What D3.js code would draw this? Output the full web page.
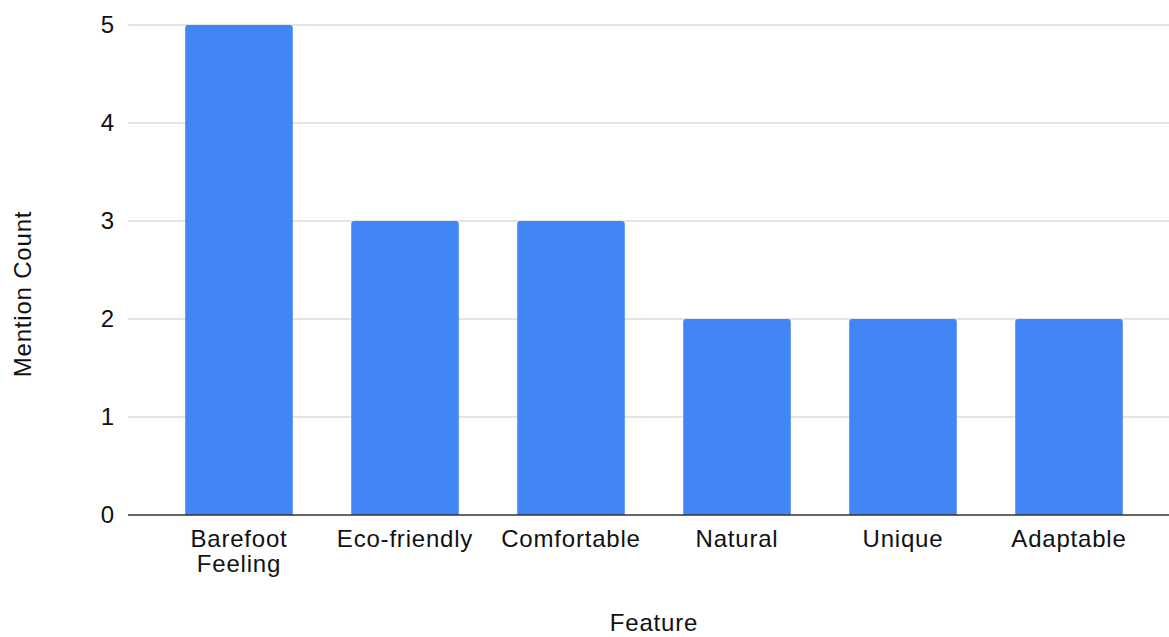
<!DOCTYPE html>
<html>
<head>
<meta charset="utf-8">
<script src="https://cdn.jsdelivr.net/npm/d3@7"></script>
<style>
  html, body { margin: 0; padding: 0; background: #fff; }
  svg { display: block; }
  text { font-family: "Liberation Sans", Arial, sans-serif; fill: #111; }
</style>
</head>
<body>
<svg id="chart" width="1169" height="637"></svg>
<script>
// Feature mention counts
const features = ["Barefoot Feeling", "Eco-friendly", "Comfortable", "Natural", "Unique", "Adaptable"];
const mentionCounts = [5, 3, 3, 2, 2, 2];
const yTicks = [0, 1, 2, 3, 4, 5];

const W = 1169, H = 637;
const plot = { left: 128, right: 1169, top: 25, bottom: 515 };
const barColor = "#4285F4";
const fontSize = 24;

const svg = d3.select("#chart");

const x = d3.scaleBand()
  .domain(features)
  .range([156, 1152])
  .paddingInner(0.352)
  .paddingOuter(0.176);

const y = d3.scaleLinear()
  .domain([0, 5])
  .range([plot.bottom, plot.top]);

// horizontal gridlines
svg.append("g")
  .selectAll("line")
  .data(yTicks.filter(d => d !== 0))
  .join("line")
  .attr("x1", plot.left)
  .attr("x2", plot.right)
  .attr("y1", d => y(d))
  .attr("y2", d => y(d))
  .attr("stroke", "#cccccc")
  .attr("stroke-width", 1.2);

// bars with slightly rounded top corners
const r = 3;
svg.append("g")
  .selectAll("path")
  .data(features.map((f, i) => ({ f, v: mentionCounts[i] })))
  .join("path")
  .attr("fill", barColor)
  .attr("d", d => {
    const x0 = x(d.f), x1 = x0 + x.bandwidth();
    const y0 = y(d.v), yb = y(0);
    return `M${x0},${yb}V${y0 + r}Q${x0},${y0} ${x0 + r},${y0}H${x1 - r}Q${x1},${y0} ${x1},${y0 + r}V${yb}Z`;
  });

// baseline
svg.append("line")
  .attr("x1", plot.left)
  .attr("x2", plot.right)
  .attr("y1", y(0))
  .attr("y2", y(0))
  .attr("stroke", "#333333")
  .attr("stroke-width", 1.6);

// y tick labels
svg.append("g")
  .selectAll("text")
  .data(yTicks)
  .join("text")
  .attr("x", 114)
  .attr("y", d => y(d))
  .attr("dy", "0.35em")
  .attr("text-anchor", "end")
  .style("font-size", fontSize + "px")
  .text(d => d);

// x category labels, wrapped onto two lines when needed
const wrapAt = 110;
const xLabels = svg.append("g")
  .selectAll("text")
  .data(features)
  .join("text")
  .attr("text-anchor", "middle")
  .style("font-size", fontSize + "px")
  .style("letter-spacing", "0.8px");

xLabels.each(function(d) {
  const t = d3.select(this);
  const cx = x(d) + x.bandwidth() / 2;
  const words = d.split(" ");
  // measure full label; split if wider than the band allows
  t.text(d);
  const lines = this.getComputedTextLength() > wrapAt && words.length > 1 ? words : [d];
  t.text(null);
  lines.forEach((ln, i) => {
    t.append("tspan")
      .attr("x", cx)
      .attr("y", 547 + i * 25)
      .text(ln);
  });
});

// axis titles
svg.append("text")
  .attr("x", 654)
  .attr("y", 631)
  .attr("text-anchor", "middle")
  .style("font-size", fontSize + "px")
  .style("letter-spacing", "0.8px")
  .text("Feature");

svg.append("text")
  .attr("transform", `translate(31,294) rotate(-90)`)
  .attr("text-anchor", "middle")
  .style("font-size", fontSize + "px")
  .style("letter-spacing", "0.8px")
  .text("Mention Count");
</script>
</body>
</html>
